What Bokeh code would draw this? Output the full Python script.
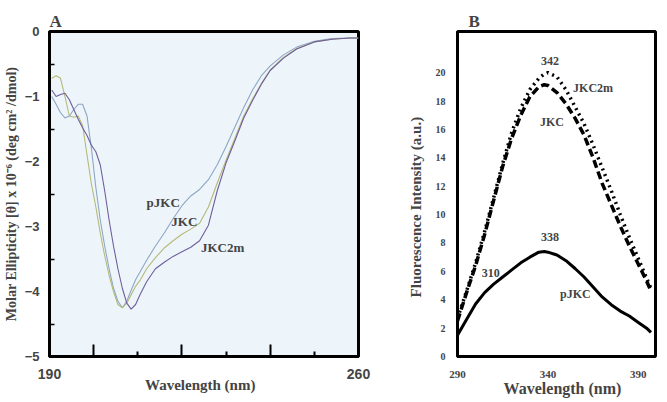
from bokeh.plotting import figure
from bokeh.layouts import row
from bokeh.models import FixedTicker, Label, Range1d
from bokeh.embed import file_html
from bokeh.resources import INLINE

# ---------------- Panel A data (CD spectra) ----------------
cd_wavelength = [190.5, 191.5, 192.5, 193.5, 194.5, 195.5, 196.5, 197.5, 198.5, 199.5,
                 200.5, 201.5, 202.5, 203.5, 204.5, 205.5, 206.5, 207.5, 208.5, 209.5,
                 210.5, 212, 214, 216, 218, 220, 222, 224, 226, 228,
                 230, 232, 234, 236, 238, 240, 243, 246, 250, 254, 258, 260]
cd_pJKC = [-1.0, -1.12, -1.25, -1.33, -1.3, -1.2, -1.12, -1.12, -1.3, -1.8,
           -2.4, -2.9, -3.3, -3.65, -3.95, -4.15, -4.25, -4.15, -3.98, -3.82,
           -3.7, -3.52, -3.3, -3.1, -2.88, -2.68, -2.53, -2.43, -2.28, -2.05,
           -1.77, -1.47, -1.17, -0.9, -0.68, -0.53, -0.36, -0.24, -0.15, -0.11, -0.1, -0.1]
cd_JKC = [-0.72, -0.68, -0.72, -1.0, -1.3, -1.32, -1.3, -1.45, -1.9, -2.35,
          -2.7, -3.1, -3.45, -3.75, -4.0, -4.2, -4.25, -4.18, -4.05, -3.92,
          -3.83, -3.65, -3.48, -3.33, -3.22, -3.12, -3.04, -2.95, -2.7, -2.33,
          -1.98, -1.64, -1.3, -1.04, -0.8, -0.59, -0.4, -0.26, -0.16, -0.12, -0.1, -0.1]
cd_JKC2m = [-0.9, -1.0, -0.97, -0.95, -1.05, -1.2, -1.35, -1.48, -1.6, -1.75,
            -1.85, -2.05, -2.45, -2.9, -3.3, -3.65, -3.95, -4.18, -4.27, -4.2,
            -4.05, -3.85, -3.65, -3.55, -3.46, -3.39, -3.32, -3.22, -2.98, -2.45,
            -2.02, -1.68, -1.33, -1.06, -0.81, -0.6, -0.41, -0.27, -0.16, -0.12, -0.1, -0.1]
cd_yticks = [0, -1, -2, -3, -4, -5]
cd_xticks = [190, 200, 220, 240, 260]
cd_xminor = [210, 230, 250]

# ---------------- Panel B data (fluorescence) ----------------
fl_wavelength = [290, 295, 300, 305, 310, 315, 320, 325, 330, 335, 338, 340,
                 345, 350, 355, 360, 365, 370, 375, 380, 385, 390, 395, 397]
fl_JKC = [2.5, 4.5, 6.4, 8.6, 11.0, 13.4, 15.4, 17.0, 18.3, 19.0, 19.15, 19.1,
          18.6, 17.8, 16.8, 15.6, 14.0, 12.2, 10.7, 9.2, 7.8, 6.5, 5.2, 4.6]
fl_JKC2m = [2.7, 4.6, 6.6, 8.8, 11.2, 13.6, 15.8, 17.5, 18.8, 19.6, 19.9, 20.0,
            19.7, 18.8, 17.6, 16.4, 14.9, 13.3, 11.7, 10.0, 8.4, 6.9, 5.4, 4.8]
fl_pJKC = [1.5, 2.6, 3.7, 4.5, 5.1, 5.6, 6.1, 6.6, 7.0, 7.35, 7.4, 7.35,
           7.15, 6.75, 6.2, 5.6, 4.9, 4.2, 3.65, 3.2, 2.85, 2.4, 1.95, 1.7]
fl_yticks = [0, 2, 4, 6, 8, 10, 12, 14, 16, 18, 20]
fl_xticks = [290, 340, 390]

SERIF = "Liberation Serif"
SANS = "Liberation Sans"
NB = "\u00a0"


def add_text(p, txt, x, y, size, align="left"):
    p.add_layout(Label(x=x, y=y, text=txt, text_font=SERIF, text_font_style="bold",
                       text_font_size=size, text_align=align, text_baseline="middle"))


def style_title(p, txt, offset):
    p.title.text = txt
    p.title.text_font = SERIF
    p.title.text_font_size = "17px"
    p.title.text_font_style = "bold"
    p.title.align = "left"
    p.title.offset = offset
    p.title.standoff = 2


# ---------------- Panel A ----------------
pA = figure(width=400, height=402, output_backend="svg", toolbar_location=None,
            x_range=Range1d(190, 260), y_range=Range1d(-5, 0),
            min_border_left=47, min_border_right=42, min_border_top=31, min_border_bottom=45)
pA.background_fill_color = "#eef5fa"
pA.border_fill_color = "white"
pA.outline_line_color = "black"
pA.outline_line_width = 3
pA.grid.visible = False
style_title(pA, "A", 0)

pA.line(cd_wavelength, cd_pJKC, line_color="#8ca6c4", line_width=1.1)
pA.line(cd_wavelength, cd_JKC, line_color="#b6b878", line_width=1.1)
pA.line(cd_wavelength, cd_JKC2m, line_color="#6e5e9c", line_width=1.1)

xa = pA.xaxis[0]
xa.ticker = FixedTicker(ticks=cd_xticks, minor_ticks=cd_xminor)
xa.major_label_overrides = {200: "", 220: "", 240: ""}
xa.major_tick_in = 12
xa.major_tick_out = 0
xa.minor_tick_in = 5
xa.minor_tick_out = 0
xa.major_tick_line_width = 2
xa.minor_tick_line_width = 2
xa.axis_line_width = 3
xa.major_label_text_font = SANS
xa.major_label_text_font_style = "bold"
xa.major_label_text_font_size = "14px"
xa.major_label_standoff = 12
xa.axis_label = "Wavelength (nm)" + NB * 2
xa.axis_label_text_font = SERIF
xa.axis_label_text_font_style = "bold"
xa.axis_label_text_font_size = "15px"
xa.axis_label_standoff = -5

ya = pA.yaxis[0]
ya.ticker = FixedTicker(ticks=cd_yticks, minor_ticks=[-0.5, -1.5, -2.5, -3.5, -4.5])
ya.major_tick_in = 0
ya.major_tick_out = 0
ya.minor_tick_in = 5
ya.minor_tick_out = 0
ya.minor_tick_line_width = 1.5
ya.axis_line_width = 3
ya.major_label_text_font = SANS
ya.major_label_text_font_style = "bold"
ya.major_label_text_font_size = "13px"
ya.major_label_standoff = 10
ya.axis_label = "Molar Ellipticity [θ] x 10⁻⁶ (deg cm² /dmol)"
ya.axis_label_text_font = SERIF
ya.axis_label_text_font_style = "bold"
ya.axis_label_text_font_size = "14px"
ya.axis_label_standoff = 3

for txt, x, y in [("pJKC", 212.0, -2.63), ("JKC", 217.6, -2.93), ("JKC2m", 224.3, -3.32)]:
    add_text(pA, txt, x, y, "13px")

# ---------------- Panel B ----------------
pB = figure(width=266, height=402, output_backend="svg", toolbar_location=None,
            x_range=Range1d(290, 399.5), y_range=Range1d(0, 22.9),
            min_border_left=57, min_border_right=11, min_border_top=31, min_border_bottom=46)
pB.background_fill_color = "white"
pB.outline_line_color = "black"
pB.outline_line_width = 3
pB.grid.visible = False
style_title(pB, "B", 11)

pB.line(fl_wavelength, fl_JKC2m, line_color="black", line_width=3.5, line_dash="2 4")
pB.line(fl_wavelength, fl_JKC, line_color="black", line_width=3.5, line_dash="8 4")
pB.line(fl_wavelength, fl_pJKC, line_color="black", line_width=3)

xb = pB.xaxis[0]
xb.ticker = FixedTicker(ticks=fl_xticks)
xb.minor_tick_line_color = None
xb.major_tick_in = 0
xb.major_tick_out = 0
xb.axis_line_width = 3
xb.major_label_text_font = SERIF
xb.major_label_text_font_style = "bold"
xb.major_label_text_font_size = "11px"
xb.major_label_standoff = 14
xb.axis_label = NB * 3 + "Wavelength (nm)"
xb.axis_label_text_font = SERIF
xb.axis_label_text_font_style = "bold"
xb.axis_label_text_font_size = "16px"
xb.axis_label_standoff = -1

yb = pB.yaxis[0]
yb.ticker = FixedTicker(ticks=fl_yticks)
yb.minor_tick_line_color = None
yb.major_tick_in = 0
yb.major_tick_out = 0
yb.axis_line_width = 3
yb.major_label_text_font = SERIF
yb.major_label_text_font_style = "bold"
yb.major_label_text_font_size = "10px"
yb.major_label_standoff = 12
yb.axis_label = "Fluorescence Intensity (a.u.)" + NB * 7
yb.axis_label_text_font = SERIF
yb.axis_label_text_font_style = "bold"
yb.axis_label_text_font_size = "15px"
yb.axis_label_standoff = 9

for txt, x, y, al in [("342", 341.1, 20.85, "center"), ("JKC2m", 353.9, 18.9, "left"),
                      ("JKC", 335.6, 16.5, "left"), ("338", 341.1, 8.4, "center"),
                      ("310", 308.4, 5.85, "center"), ("pJKC", 346.7, 4.37, "left")]:
    add_text(pB, txt, x, y, "12px", al)

layout = row(pA, pB)
open("out.html", "w").write(file_html(layout, INLINE))
